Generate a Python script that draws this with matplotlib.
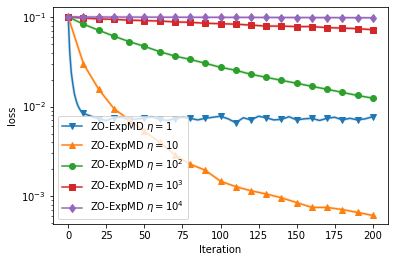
import matplotlib
matplotlib.use("Agg")
import matplotlib.pyplot as plt
import numpy as np

# iterations where markers sit (every 10)
iters10 = list(range(0, 201, 10))

# eta = 1 : fast drop then noisy plateau
blue_x = [0, 1, 2, 3, 4, 5, 6, 7, 8, 9, 10, 15, 20, 25, 30, 35, 40, 45, 50, 55, 60, 65,
          70, 75, 80, 85, 90, 95, 100, 105, 110, 115, 120, 125, 130, 135, 140, 145,
          150, 155, 160, 165, 170, 175, 180, 185, 190, 195, 200]
blue_y = [0.1, 0.040, 0.024, 0.018, 0.014, 0.012, 0.0106, 0.0097, 0.0091, 0.0087, 0.0084,
          0.0078, 0.0073, 0.0070, 0.0075, 0.0076, 0.0071, 0.0073, 0.0074, 0.0077, 0.0072,
          0.0070, 0.0073, 0.0076, 0.0074, 0.0071, 0.0074, 0.0076, 0.0078, 0.0073, 0.0066,
          0.0075, 0.0071, 0.0078, 0.0075, 0.0071, 0.0072, 0.0077, 0.0071, 0.0073, 0.0074,
          0.0070, 0.0074, 0.0076, 0.0071, 0.0074, 0.0071, 0.0073, 0.0077]

orange_y = [0.1, 0.030, 0.0156, 0.0095, 0.0071, 0.0053, 0.0040, 0.0029, 0.00228, 0.00195,
            0.00147, 0.00128, 0.00115, 0.00106, 0.00096, 0.00085, 0.00075, 0.00075,
            0.00071, 0.00066, 0.00061]
green_y = [0.1, 0.083, 0.071, 0.061, 0.053, 0.047, 0.041, 0.0366, 0.0336, 0.0304, 0.0274,
           0.0254, 0.0229, 0.0212, 0.0196, 0.0182, 0.0168, 0.0156, 0.0144, 0.0133, 0.0124]
red_y = [0.1, 0.097, 0.095, 0.094, 0.092, 0.091, 0.090, 0.088, 0.087, 0.085, 0.084, 0.083,
         0.081, 0.079, 0.079, 0.078, 0.078, 0.076, 0.075, 0.074, 0.072]
purple_y = [0.1, 0.0998, 0.0997, 0.0996, 0.0995, 0.0994, 0.0993, 0.0992, 0.0991, 0.0990,
            0.0989, 0.0988, 0.0987, 0.0986, 0.0985, 0.0984, 0.0983, 0.0982, 0.0981, 0.0980,
            0.0978]

labels = [r"ZO-ExpMD $\eta = 1$", r"ZO-ExpMD $\eta = 10$", r"ZO-ExpMD $\eta = 10^2$",
          r"ZO-ExpMD $\eta = 10^3$", r"ZO-ExpMD $\eta = 10^4$"]
colors = ["#1f77b4", "#ff7f0e", "#2ca02c", "#d62728", "#9467bd"]
markers = ["v", "^", "o", "s", "d"]

fig = plt.figure(figsize=(394 / 72, 262 / 72), dpi=72)
ax = fig.add_axes([53 / 394, 1 - 224 / 262, 335 / 394, 217 / 262])

series = [(blue_x, blue_y), (iters10, orange_y), (iters10, green_y),
          (iters10, red_y), (iters10, purple_y)]
for (xs, ys), lab, c, m in zip(series, labels, colors, markers):
    # faint band behind each line
    ax.plot(xs, ys, color=c, lw=3, alpha=0.2)
    mask = [x % 10 == 0 for x in xs]
    ax.plot(xs, ys, color=c, marker=m, markevery=mask, label=lab)

ax.set_yscale("log")
ax.set_xlim(-10, 210)
ax.set_ylim(0.00049, 0.129)
ax.set_xticks([0, 25, 50, 75, 100, 125, 150, 175, 200])
ax.set_xlabel("Iteration")
ax.set_ylabel("loss")
ax.legend(loc="lower left")

fig.savefig("out.png", dpi=72)
